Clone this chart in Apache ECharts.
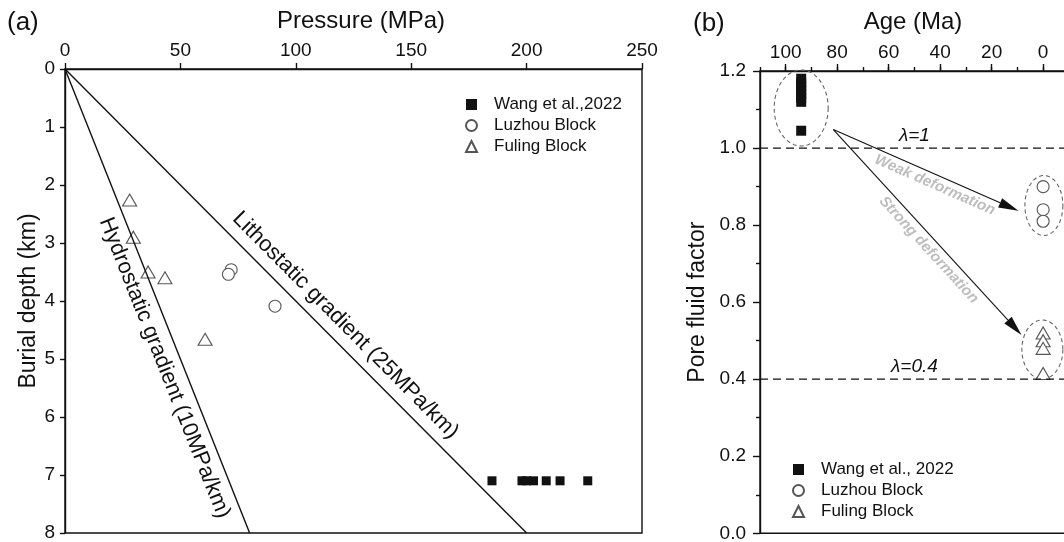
<!DOCTYPE html>
<html>
<head>
<meta charset="utf-8">
<script src="https://cdn.jsdelivr.net/npm/echarts@6/dist/echarts.min.js"></script>
<style>
html, body { margin: 0; padding: 0; background: #fff; }
#chart { width: 1064px; height: 542px; }
</style>
</head>
<body>
<div id="chart"></div>
<script>
// ---- panel (a): pressure vs burial depth ----
var wangPressure = [185, 198, 200, 203, 208.5, 214.5, 226.5];
var wangDepth = [7.1, 7.1, 7.1, 7.1, 7.1, 7.1, 7.1];
var luzhouPressure = [72, 70.8, 91];
var luzhouDepth = [3.46, 3.54, 4.09];
var fulingPressure = [28, 29.6, 36, 43.3, 60.7];
var fulingDepth = [2.26, 2.9, 3.5, 3.6, 4.66];
var hydroLine = [[0, 0], [80, 8]];
var lithoLine = [[0, 0], [200, 8]];
var pressureTicks = [0, 250, 50];
var depthTicks = [0, 8, 1];

// ---- panel (b): pore fluid factor vs age ----
var wangAge = [94, 94, 94, 94, 94, 94, 94, 94];
var wangFactor = [1.12, 1.13, 1.14, 1.15, 1.16, 1.17, 1.18, 1.045];
var luzhouAge = [0, 0, 0];
var luzhouFactor = [0.9, 0.84, 0.81];
var fulingAge = [0, 0, 0, 0];
var fulingFactor = [0.52, 0.5, 0.48, 0.415];
var lambdaValues = [1.0, 0.4];
var lambdaNames = ['\u03bb=1', '\u03bb=0.4'];
var arrowFrom = [81.5, 1.048];
var weakTo = [9.6, 0.837];
var strongTo = [8.4, 0.515];

// annotation layout (kept apart from the data)
var gradientLabels = [
  { text: 'Hydrostatic gradient (10MPa/km)', line: hydroLine, at: 0.63, off: 18 },
  { text: 'Lithostatic gradient (25MPa/km)', line: lithoLine, at: 0.58, off: -18 }
];
var groupRings = [
  { age: 94, value: 1.104, rx: 27, ry: 38 },
  { age: -0.3, value: 0.851, rx: 19, ry: 30 },
  { age: 0.3, value: 0.477, rx: 20.5, ry: 29.5 }
];
var deformLabels = [
  { text: 'Weak deformation', to: weakTo, at: 0.57, off: 10 },
  { text: 'Strong deformation', to: strongTo, at: 0.55, off: 11 }
];

var FONT = '"Liberation Sans", Arial, sans-serif';
var INK = '#111';
var MARK = '#555';

function pairs(xs, ys) {
  return xs.map(function (x, i) { return [x, ys[i]]; });
}

function renderAlongText(specs, size, color, weight, style) {
  return function (params, api) {
    var s = specs[params.dataIndex];
    var a = api.coord([api.value(0), api.value(1)]);
    var b = api.coord([api.value(2), api.value(3)]);
    var ang = Math.atan2(b[1] - a[1], b[0] - a[0]);
    var cx = a[0] + (b[0] - a[0]) * s.at - Math.sin(ang) * s.off;
    var cy = a[1] + (b[1] - a[1]) * s.at + Math.cos(ang) * s.off;
    return {
      type: 'text', x: cx, y: cy, rotation: -ang,
      style: {
        text: s.text, fill: color, fontSize: size, fontFamily: FONT,
        fontWeight: weight, fontStyle: style, align: 'center', verticalAlign: 'middle'
      }
    };
  };
}

function renderRing(params, api) {
  var s = groupRings[params.dataIndex];
  var c = api.coord([api.value(0), api.value(1)]);
  var pts = [];
  for (var k = 0; k < 72; k++) {
    var t = k / 72 * Math.PI * 2;
    pts.push([c[0] + s.rx * Math.cos(t), c[1] + s.ry * Math.sin(t)]);
  }
  return {
    type: 'polygon', shape: { points: pts },
    style: { fill: 'none', stroke: '#666', lineWidth: 1.1, lineDash: [4, 3] }
  };
}

function renderArrow(params, api) {
  var a = api.coord([api.value(0), api.value(1)]);
  var b = api.coord([api.value(2), api.value(3)]);
  var ang = Math.atan2(b[1] - a[1], b[0] - a[0]);
  var ux = Math.cos(ang), uy = Math.sin(ang);
  var L = 20, W = 5;
  var bx = b[0] - ux * L, by = b[1] - uy * L;
  return {
    type: 'group',
    children: [
      { type: 'line', shape: { x1: a[0], y1: a[1], x2: bx, y2: by }, style: { stroke: INK, lineWidth: 1.1 } },
      { type: 'polygon', shape: { points: [[b[0], b[1]], [bx - uy * W, by + ux * W], [bx + uy * W, by - ux * W]] }, style: { fill: INK } }
    ]
  };
}

function renderLambda(params, api) {
  var p = api.coord([api.value(0), api.value(1)]);
  return {
    type: 'text', x: p[0], y: p[1] - 12,
    style: {
      text: lambdaNames[params.dataIndex], fill: INK, fontSize: 19, fontFamily: FONT,
      fontStyle: 'italic', align: 'center', verticalAlign: 'middle'
    }
  };
}

var chart = echarts.init(document.getElementById('chart'));

var tickFont = { fontSize: 19, fontFamily: FONT, color: INK };
var axisLineStyle = { color: INK, width: 1.4 };
var nameFont = { fontSize: 23, fontFamily: FONT, color: INK };
var solidMark = { color: INK, opacity: 1 };
var openMark = { color: '#fff', borderColor: MARK, borderWidth: 1.1, opacity: 1 };

var option = {
  animation: false,
  backgroundColor: '#fff',
  graphic: [
    { type: 'text', x: 7, y: 23, style: { text: '(a)', fontSize: 26, fontFamily: FONT, fill: INK, verticalAlign: 'middle' } },
    { type: 'text', x: 361, y: 21, style: { text: 'Pressure (MPa)', fontSize: 24, fontFamily: FONT, fill: INK, align: 'center', verticalAlign: 'middle' } },
    { type: 'text', x: 693, y: 24, style: { text: '(b)', fontSize: 26, fontFamily: FONT, fill: INK, verticalAlign: 'middle' } },
    { type: 'text', x: 913, y: 22, style: { text: 'Age (Ma)', fontSize: 24, fontFamily: FONT, fill: INK, align: 'center', verticalAlign: 'middle' } }
  ],
  legend: [
    {
      data: [{ name: 'Wang et al.,2022', icon: 'rect' }, { name: 'Luzhou Block', icon: 'circle' }, { name: 'Fuling Block', icon: 'triangle' }],
      orient: 'vertical', left: 460, top: 91, itemWidth: 11, itemHeight: 11, itemGap: 4,
      selectedMode: false,
      textStyle: { fontSize: 17, fontFamily: FONT, color: INK, padding: [0, 0, 0, 12] }
    },
    {
      data: [{ name: 'Wang et al., 2022', icon: 'rect' }, { name: 'Luzhou Block', icon: 'circle' }, { name: 'Fuling Block', icon: 'triangle' }],
      orient: 'vertical', left: 787, top: 456, itemWidth: 11, itemHeight: 11, itemGap: 4,
      selectedMode: false,
      textStyle: { fontSize: 17, fontFamily: FONT, color: INK, padding: [0, 0, 0, 12] }
    }
  ],
  grid: [
    { left: 65, top: 69, width: 577, height: 464, outerBoundsMode: 'none', containLabel: false, show: true, borderColor: INK, borderWidth: 1.4, backgroundColor: 'transparent' },
    { left: 760, top: 71, width: 334.6, height: 462.3, outerBoundsMode: 'none', containLabel: false, show: true, borderColor: INK, borderWidth: 1.4, backgroundColor: 'transparent' },
    { left: 785.7, top: 71, width: 308.9, height: 462.3, outerBoundsMode: 'none', containLabel: false }
  ],
  xAxis: [
    {
      gridIndex: 0, type: 'value', position: 'top',
      min: pressureTicks[0], max: pressureTicks[1], interval: pressureTicks[2],
      axisLine: { onZero: false, lineStyle: axisLineStyle },
      axisTick: { length: 6, lineStyle: axisLineStyle },
      axisLabel: Object.assign({ margin: 9 }, tickFont),
      splitLine: { show: false }
    },
    {
      gridIndex: 1, type: 'value', position: 'top', inverse: true,
      min: -20, max: 110, interval: 10,
      axisLine: { onZero: false, lineStyle: axisLineStyle },
      axisTick: { length: 4, lineStyle: axisLineStyle },
      axisLabel: { show: false },
      splitLine: { show: false }
    },
    {
      gridIndex: 2, type: 'value', position: 'top', inverse: true,
      min: -20, max: 100, interval: 20,
      axisLine: { show: false, onZero: false },
      axisTick: { length: 7, lineStyle: axisLineStyle },
      axisLabel: Object.assign({ margin: 9, formatter: function (v) { return v < 0 ? '' : String(v); } }, tickFont),
      splitLine: { show: false }
    }
  ],
  yAxis: [
    {
      gridIndex: 0, type: 'value', inverse: true,
      min: depthTicks[0], max: depthTicks[1], interval: depthTicks[2],
      name: 'Burial depth (km)', nameLocation: 'middle', nameGap: 25, nameMoveOverlap: false, nameTextStyle: nameFont,
      axisLine: { onZero: false, lineStyle: axisLineStyle },
      axisTick: { length: 5, lineStyle: axisLineStyle },
      axisLabel: Object.assign({ margin: 10 }, tickFont),
      splitLine: { show: false }
    },
    {
      gridIndex: 1, type: 'value', min: 0, max: 1.2, interval: 0.2,
      name: 'Pore fluid factor', nameLocation: 'middle', nameGap: 51, nameMoveOverlap: false, nameTextStyle: nameFont,
      axisLine: { onZero: false, lineStyle: axisLineStyle },
      axisTick: { length: 7, lineStyle: axisLineStyle },
      minorTick: { show: true, splitNumber: 2, length: 4, lineStyle: axisLineStyle },
      axisLabel: Object.assign({ margin: 14, formatter: function (v) { return v.toFixed(1); } }, tickFont),
      splitLine: { show: false }, minorSplitLine: { show: false }
    },
    { gridIndex: 2, type: 'value', min: 0, max: 1.2, show: false }
  ],
  series: [
    // panel (a)
    { type: 'line', xAxisIndex: 0, yAxisIndex: 0, data: hydroLine, symbol: 'none', silent: true, lineStyle: { color: INK, width: 1.4 } },
    { type: 'line', xAxisIndex: 0, yAxisIndex: 0, data: lithoLine, symbol: 'none', silent: true, lineStyle: { color: INK, width: 1.4 } },
    {
      type: 'custom', xAxisIndex: 0, yAxisIndex: 0, silent: true,
      data: gradientLabels.map(function (g) { return [g.line[0][0], g.line[0][1], g.line[1][0], g.line[1][1]]; }),
      encode: { x: [0, 2], y: [1, 3] },
      renderItem: renderAlongText(gradientLabels, 22, INK, 'normal', 'normal')
    },
    {
      name: 'Wang et al.,2022', type: 'scatter', xAxisIndex: 0, yAxisIndex: 0,
      data: pairs(wangPressure, wangDepth), symbol: 'rect', symbolSize: 9,
      itemStyle: solidMark
    },
    {
      name: 'Luzhou Block', type: 'scatter', xAxisIndex: 0, yAxisIndex: 0,
      data: pairs(luzhouPressure, luzhouDepth), symbol: 'circle', symbolSize: 12,
      itemStyle: openMark
    },
    {
      name: 'Fuling Block', type: 'scatter', xAxisIndex: 0, yAxisIndex: 0,
      data: pairs(fulingPressure, fulingDepth), symbol: 'triangle', symbolSize: [14, 12],
      itemStyle: openMark
    },
    // panel (b)
    {
      type: 'line', xAxisIndex: 1, yAxisIndex: 1, symbol: 'none', silent: true,
      data: [[110, lambdaValues[0]], [-20, lambdaValues[0]]],
      lineStyle: { color: INK, width: 1.3, type: [8, 5] }
    },
    {
      type: 'line', xAxisIndex: 1, yAxisIndex: 1, symbol: 'none', silent: true,
      data: [[110, lambdaValues[1]], [-20, lambdaValues[1]]],
      lineStyle: { color: INK, width: 1.3, type: [8, 5] }
    },
    {
      type: 'custom', xAxisIndex: 1, yAxisIndex: 1, silent: true,
      data: lambdaValues.map(function (v) { return [50, v]; }),
      renderItem: renderLambda
    },
    {
      type: 'custom', xAxisIndex: 1, yAxisIndex: 1, silent: true,
      data: groupRings.map(function (r) { return [r.age, r.value]; }),
      renderItem: renderRing
    },
    {
      type: 'custom', xAxisIndex: 1, yAxisIndex: 1, silent: true,
      data: [arrowFrom.concat(weakTo), arrowFrom.concat(strongTo)],
      encode: { x: [0, 2], y: [1, 3] },
      renderItem: renderArrow
    },
    {
      type: 'custom', xAxisIndex: 1, yAxisIndex: 1, silent: true,
      data: deformLabels.map(function (d) { return arrowFrom.concat(d.to); }),
      encode: { x: [0, 2], y: [1, 3] },
      renderItem: renderAlongText(deformLabels, 15, '#bdbdbd', 'bold', 'italic')
    },
    {
      name: 'Wang et al., 2022', type: 'scatter', xAxisIndex: 1, yAxisIndex: 1,
      data: pairs(wangAge, wangFactor), symbol: 'rect', symbolSize: 10,
      itemStyle: solidMark
    },
    {
      name: 'Luzhou Block', type: 'scatter', xAxisIndex: 1, yAxisIndex: 1,
      data: pairs(luzhouAge, luzhouFactor), symbol: 'circle', symbolSize: 12,
      itemStyle: openMark
    },
    {
      name: 'Fuling Block', type: 'scatter', xAxisIndex: 1, yAxisIndex: 1,
      data: pairs(fulingAge, fulingFactor), symbol: 'triangle', symbolSize: [14, 12],
      itemStyle: openMark
    }
  ]
};

chart.setOption(option);
</script>
</body>
</html>
